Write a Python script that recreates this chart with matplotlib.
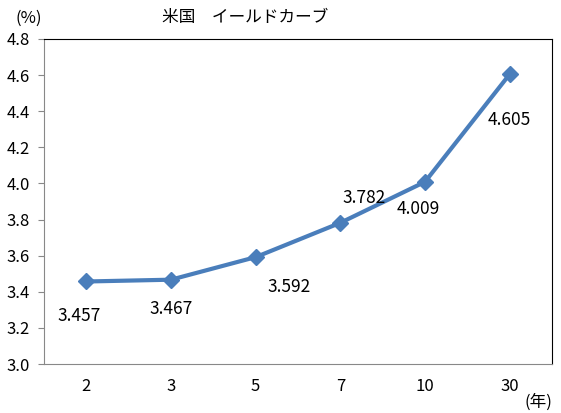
import matplotlib
matplotlib.use("Agg")
import matplotlib.pyplot as plt

plt.rcParams['font.family'] = ['Noto Sans CJK JP', 'DejaVu Sans']

# data
maturities = ['2', '3', '5', '7', '10', '30']
yields = [3.457, 3.467, 3.592, 3.782, 4.009, 4.605]
yticks = [3.0, 3.2, 3.4, 3.6, 3.8, 4.0, 4.2, 4.4, 4.6, 4.8]
# label offsets (pixels)
label_offsets = [(-7, -35), (0, -29), (33, -30), (24, 25), (-7, -27), (0, -46)]

fig = plt.figure(figsize=(5.61, 4.13), dpi=100)
ax = fig.add_axes([0.0784, 0.1186, 0.9056, 0.787])

x = list(range(len(maturities)))
ax.plot(x, yields, color='#4A7EBB', lw=3, marker='D', ms=8,
        markerfacecolor='#4A7EBB', markeredgecolor='#4A7EBB')

for xi, yi, off in zip(x, yields, label_offsets):
    ax.annotate('%.3f' % yi, (xi, yi), xytext=off, textcoords='offset pixels',
                ha='center', va='center', fontsize=12.5)

ax.set_xlim(-0.5, 5.5)
ax.set_ylim(3.0, 4.8)
ax.set_xticks(x)
ax.set_xticklabels(maturities, fontsize=12)
ax.set_yticks(yticks)
ax.set_yticklabels(['%.1f' % v for v in yticks], fontsize=12)
ax.tick_params(axis='x', length=0, pad=10)
ax.tick_params(axis='y', length=4, color='#888888', pad=6)

for s in ['left', 'bottom']:
    ax.spines[s].set_color('#888888')
for s in ['top', 'right']:
    ax.spines[s].set_color('black')

fig.text(0.028, 0.955, '(%)', fontsize=12, ha='left', va='center')
fig.text(0.437, 0.958, '米国　イールドカーブ', fontsize=12, ha='center', va='center')
fig.text(0.985, 0.025, '(年)', fontsize=12, ha='right', va='center')

fig.savefig('out.png', dpi=100)
